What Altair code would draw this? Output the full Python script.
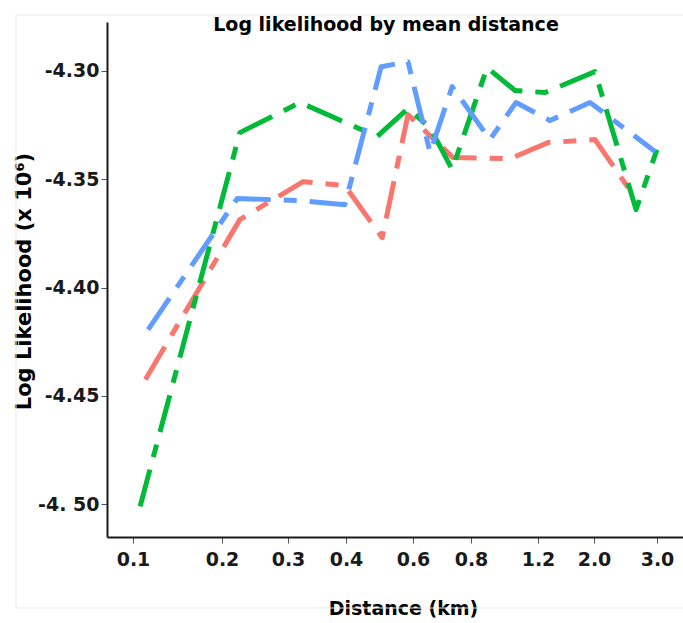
import altair as alt
import pandas as pd

# ---- data ----
series_names = ["Model 1", "Model 2", "Model 3"]
series_colors = ["#F8766D", "#00BA38", "#619CFF"]

red_x = [0.114, 0.227, 0.326, 0.398, 0.508, 0.585, 0.738, 1.033, 1.343, 2.016, 2.54]
red_y = [-4.4424, -4.3687, -4.3512, -4.3530, -4.3770, -4.3203, -4.3401, -4.3406, -4.3332, -4.3318, -4.3539]

green_x = [0.108, 0.227, 0.321, 0.493, 0.585, 0.659, 0.735, 0.896, 1.063, 1.30, 2.016, 2.667, 3.0]
green_y = [-4.5009, -4.3286, -4.3147, -4.3304, -4.3175, -4.3263, -4.3456, -4.2986, -4.3092, -4.3101,
           -4.3005, -4.3641, -4.3364]

blue_x = [0.117, 0.223, 0.321, 0.398, 0.505, 0.585, 0.659, 0.735, 0.913, 1.069, 1.371, 1.943, 2.968]
blue_y = [-4.4194, -4.3590, -4.3599, -4.3618, -4.2982, -4.2959, -4.3378, -4.3074, -4.3318, -4.3147,
          -4.3230, -4.3147, -4.3373]

x_tick_values = [0.1, 0.2, 0.3, 0.4, 0.6, 0.8, 1.2, 2.0, 3.0]
x_tick_labels = ["0.1", "0.2", "0.3", "0.4", "0.6", "0.8", "1.2", "2.0", "3.0"]
y_tick_values = [-4.30, -4.35, -4.40, -4.45, -4.50]
y_tick_labels = ["-4.30", "-4.35", "-4.40", "-4.45", "-4. 50"]

# ---- layout ----
W, H = 576, 515
# the distance axis is not uniform: piecewise scale through the labelled ticks
x_domain = [0.0708] + x_tick_values + [3.413]
x_range = [0, 26, 115, 181, 239, 306, 364, 431, 487, 550, 576]
y_domain = [-4.5150, -4.2776]

rows = []
for name, xs, ys in zip(series_names, [red_x, green_x, blue_x], [red_y, green_y, blue_y]):
    for i, (xv, yv) in enumerate(zip(xs, ys)):
        rows.append({"series": name, "dist": xv, "ll": yv, "idx": i})
df = pd.DataFrame(rows)


def label_expr(values, labels):
    expr = "''"
    for v, lab in reversed(list(zip(values, labels))):
        expr = f"abs(datum.value - ({v})) < 1e-6 ? '{lab}' : ({expr})"
    return expr


FONT = "DejaVu Sans"
dash = [38, 13, 13, 13]

# faint outer panel frame (decoration, not data)
frame = alt.Chart(pd.DataFrame({"k": [0]})).mark_rect(
    fill=None, stroke="#e9e9e9", strokeWidth=1
).encode(
    x=alt.value(-91), x2=alt.value(620), y=alt.value(-7), y2=alt.value(586)
)

lines = alt.Chart(df).mark_line(
    strokeWidth=5, strokeCap="butt", strokeJoin="round"
).encode(
    x=alt.X(
        "dist:Q",
        scale=alt.Scale(type="linear", domain=x_domain, range=x_range, nice=False, zero=False),
        axis=alt.Axis(
            values=x_tick_values,
            labelExpr=label_expr(x_tick_values, x_tick_labels),
            title="Distance (km)",
            titleX=296, titleY=71, titleAlign="center", titleBaseline="middle",
            labelPadding=7,
        ),
    ),
    y=alt.Y(
        "ll:Q",
        scale=alt.Scale(domain=y_domain, nice=False, zero=False),
        axis=alt.Axis(
            values=y_tick_values,
            labelExpr=label_expr(y_tick_values, y_tick_labels),
            title="Log Likelihood (x 10⁶)",
            titleAngle=270, titleX=-77, titleY=259, titleAlign="center",
            titleBaseline="alphabetic", titleFontSize=21,
            labelPadding=2,
        ),
    ),
    color=alt.Color("series:N", scale=alt.Scale(domain=series_names, range=series_colors), legend=None),
    strokeDash=alt.StrokeDash(
        "series:N", scale=alt.Scale(domain=series_names, range=[dash, dash, dash]), legend=None
    ),
    order="idx:Q",
)

chart = alt.layer(frame, lines).properties(
    width=W, height=H,
    background="white",
    title=alt.TitleParams(
        "Log likelihood by mean distance",
        anchor="middle", font=FONT, fontSize=19, fontWeight="bold", color="#000000",
        baseline="alphabetic", offset=-35, dx=-9,
    ),
    autosize=alt.AutoSizeParams(type="none"),
    padding={"left": 107, "top": 22, "right": 0, "bottom": 86},
).configure_view(
    stroke=None
).configure_axis(
    grid=False,
    domainColor="#1a1a1a", domainWidth=2,
    tickColor="#555555", tickWidth=1, tickSize=6,
    labelFont=FONT, labelFontSize=19, labelFontWeight="bold", labelColor="#1a1a1a",
    titleFont=FONT, titleFontSize=19, titleFontWeight="bold", titleColor="#000000",
)

chart.save("out.html", embed_options={"renderer": "svg", "actions": False})
